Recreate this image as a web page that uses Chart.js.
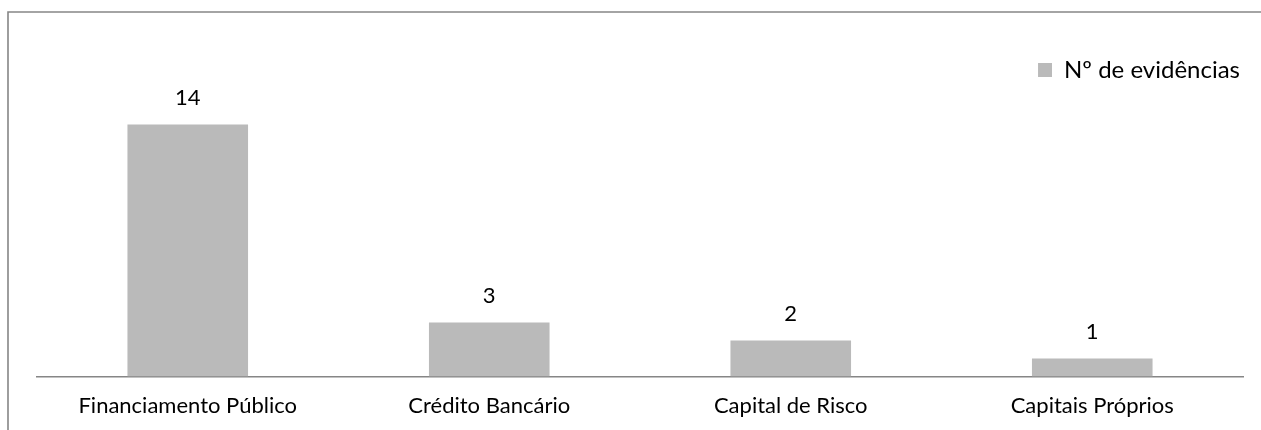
<!DOCTYPE html>
<html>
<head>
<meta charset="utf-8">
<script src="https://cdn.jsdelivr.net/npm/chart.js@4/dist/chart.umd.min.js"></script>
<style>
  html, body { margin: 0; padding: 0; background: #ffffff; }
  #wrap { width: 1261px; height: 430px; position: relative; }
</style>
</head>
<body>
<div id="wrap"><canvas id="c" width="1261" height="430"></canvas></div>
<script>
// Fontes de financiamento e número de evidências
const categories = ['Financiamento Público', 'Crédito Bancário', 'Capital de Risco', 'Capitais Próprios'];
const evidencias = [14, 3, 2, 1];
const seriesLabel = 'Nº de evidências';

const FONT = 'Lato';
const FONT_SIZE = 22;
const LEGEND_FONT_SIZE = 24;
const BAR_COLOR = '#bababa';
const LINE_COLOR = '#868686';

// Moldura exterior (linhas superior e esquerda)
const framePlugin = {
  id: 'frame',
  beforeDraw(chart) {
    const ctx = chart.ctx;
    ctx.save();
    ctx.strokeStyle = LINE_COLOR;
    ctx.lineWidth = 1.6;
    ctx.beginPath();
    ctx.moveTo(8, chart.height);
    ctx.lineTo(8, 12);
    ctx.lineTo(chart.width, 12);
    ctx.stroke();
    ctx.restore();
  }
};

// Rótulos de valor por cima de cada barra
const valueLabels = {
  id: 'valueLabels',
  afterDatasetsDraw(chart) {
    const ctx = chart.ctx;
    ctx.save();
    ctx.font = FONT_SIZE + 'px ' + FONT;
    ctx.fillStyle = '#000000';
    ctx.textAlign = 'center';
    ctx.textBaseline = 'middle';
    chart.getDatasetMeta(0).data.forEach((bar, i) => {
      ctx.fillText(String(evidencias[i]), bar.x, bar.y - 27);
    });
    ctx.restore();
  }
};

new Chart(document.getElementById('c'), {
  type: 'bar',
  data: {
    labels: categories,
    datasets: [{
      label: seriesLabel,
      data: evidencias,
      backgroundColor: BAR_COLOR,
      borderWidth: 0,
      categoryPercentage: 1.0,
      barPercentage: 0.4
    }]
  },
  options: {
    responsive: false,
    animation: false,
    devicePixelRatio: 1,
    layout: { padding: { left: 37, right: 18, top: 55, bottom: -5 } },
    plugins: {
      tooltip: { enabled: false },
      legend: {
        display: true,
        position: 'top',
        align: 'end',
        labels: {
          color: '#000000',
          font: { family: FONT, size: LEGEND_FONT_SIZE },
          boxWidth: 14,
          boxHeight: 14,
          padding: 3
        }
      }
    },
    scales: {
      x: {
        grid: { display: false, drawTicks: false },
        border: { display: true, color: LINE_COLOR, width: 1.6 },
        ticks: {
          color: '#000000',
          font: { family: FONT, size: FONT_SIZE },
          padding: 16,
          maxRotation: 0,
          autoSkip: false
        }
      },
      y: {
        display: false,
        min: 0,
        max: 15.8
      }
    }
  },
  plugins: [framePlugin, valueLabels]
});
</script>
</body>
</html>
